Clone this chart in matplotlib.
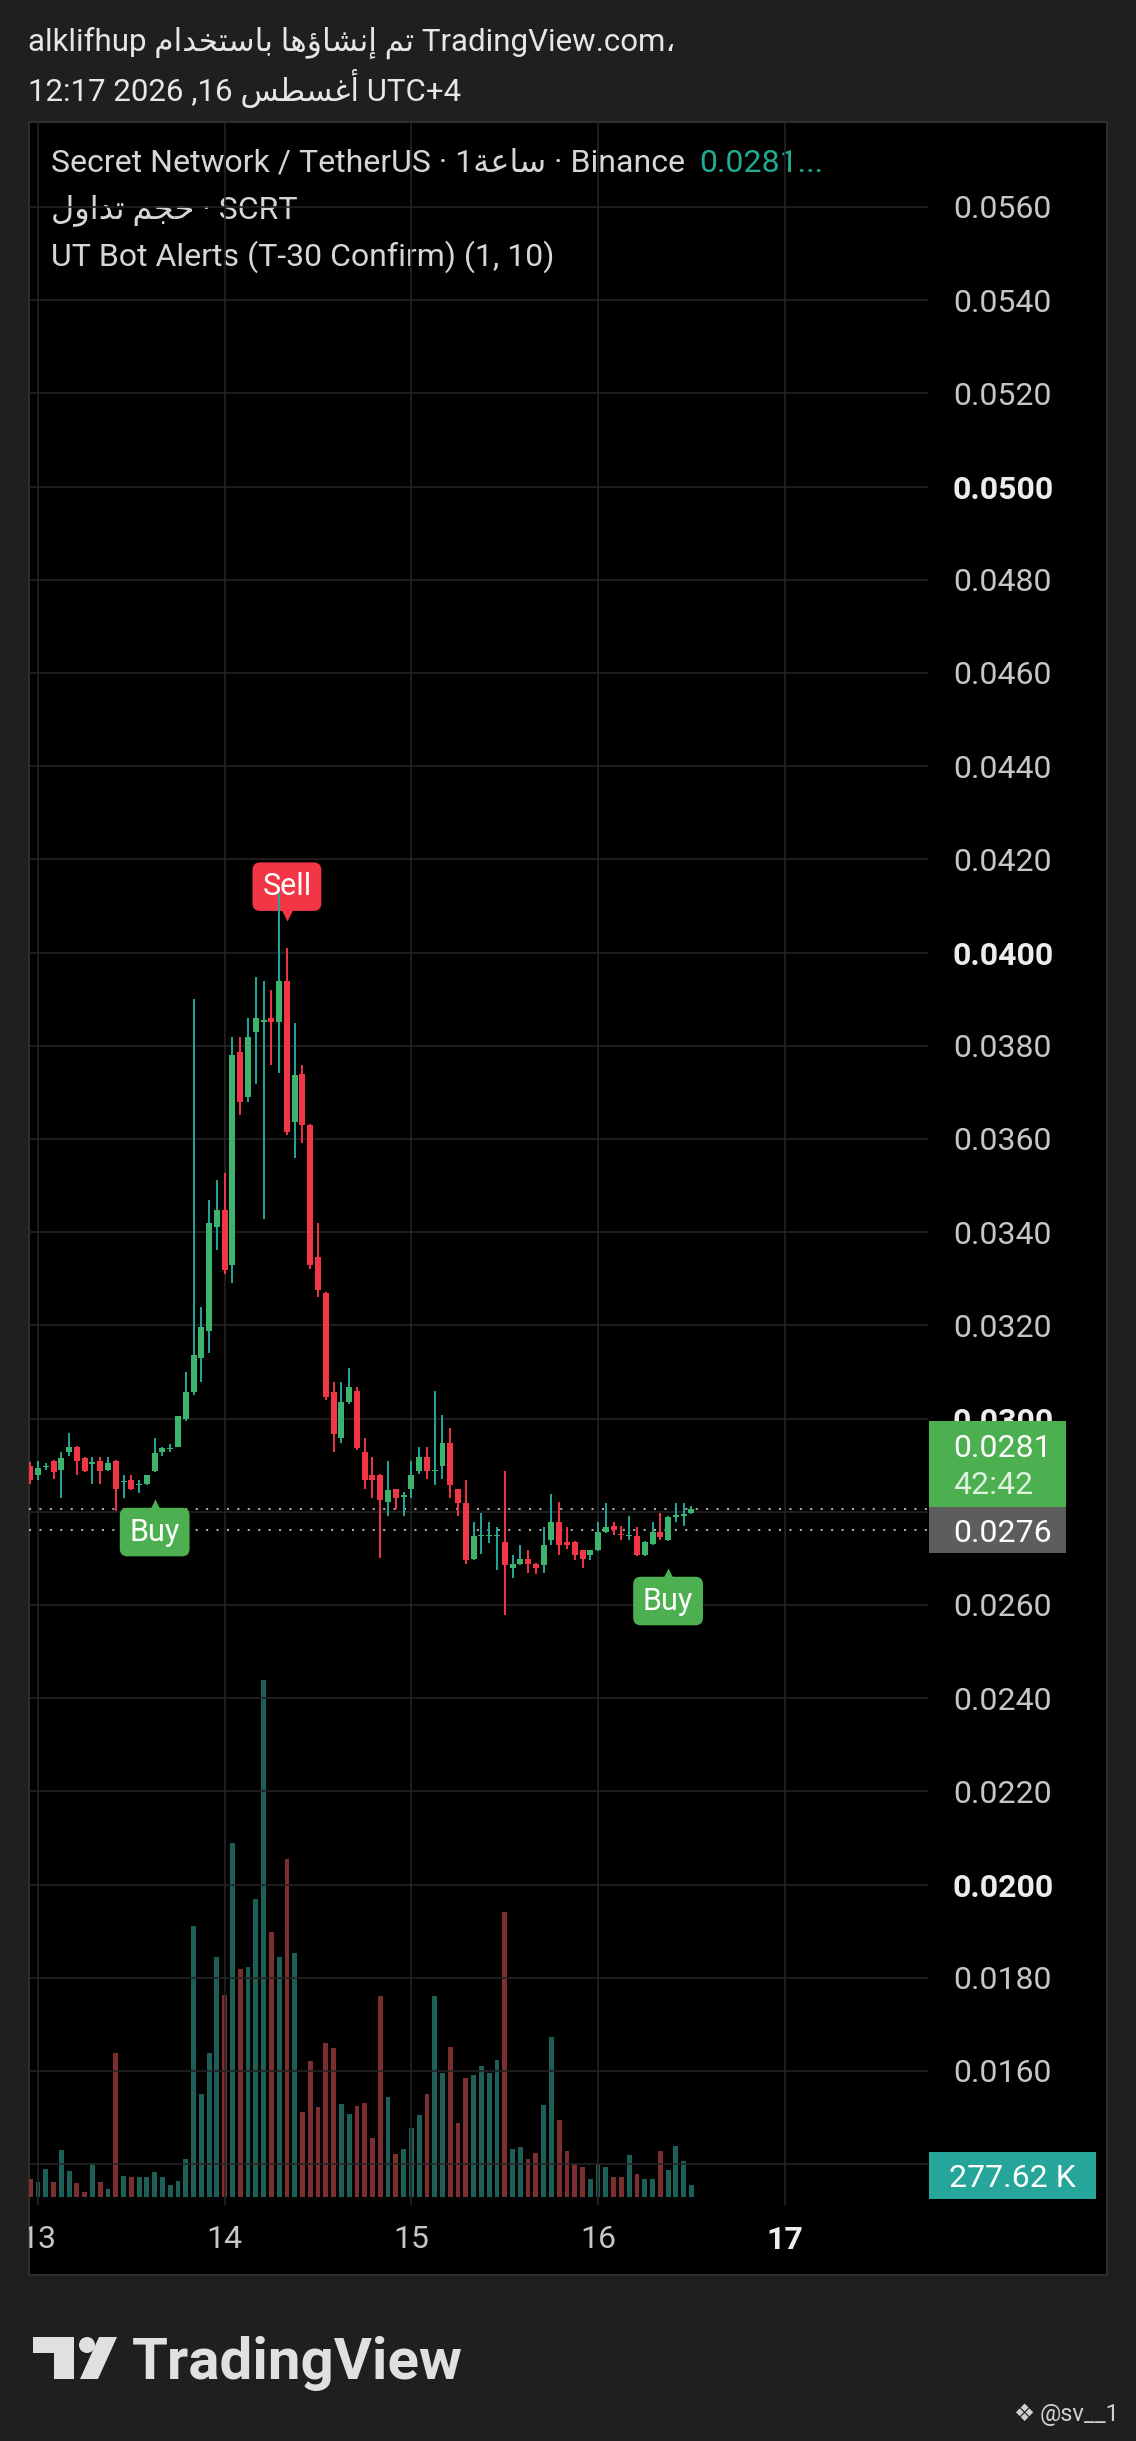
import matplotlib
matplotlib.use('Agg')
import matplotlib.pyplot as plt
from matplotlib import transforms
from matplotlib.patches import Rectangle, Polygon, Circle
import numpy as np

W, H = 1136, 2441

# ---- data (SCRT/USDT, 1h candles) ----
opens = [0.02899, 0.02879, 0.02896, 0.02909, 0.02890, 0.02929, 0.02939, 0.02915, 0.02902, 0.02908,
         0.02890, 0.02909, 0.02863, 0.02868, 0.02857, 0.02859, 0.02888, 0.02929, 0.02935, 0.02940,
         0.02999, 0.03058, 0.03129, 0.03187, 0.03412, 0.03448, 0.03330, 0.03787, 0.03691, 0.03830,
         0.03852, 0.03859, 0.03852, 0.03938, 0.03637, 0.03739, 0.03630, 0.03347, 0.03269, 0.03058,
         0.02958, 0.03036, 0.03060, 0.02929, 0.02879, 0.02879, 0.02822, 0.02848, 0.02832, 0.02848,
         0.02888, 0.02917, 0.02888, 0.02898, 0.02947, 0.02848, 0.02818, 0.02698, 0.02747, 0.02747,
         0.02747, 0.02736, 0.02679, 0.02688, 0.02698, 0.02688, 0.02686, 0.02739, 0.02779, 0.02736,
         0.02736, 0.02717, 0.02707, 0.02717, 0.02757, 0.02769, 0.02752, 0.02747, 0.02748, 0.02707,
         0.02731, 0.02757, 0.02740, 0.02788, 0.02790, 0.02798]
highs = [0.02906, 0.02908, 0.02904, 0.02912, 0.02929, 0.02970, 0.02941, 0.02917, 0.02917, 0.02917,
         0.02917, 0.02911, 0.02879, 0.02879, 0.02868, 0.02880, 0.02958, 0.02940, 0.02946, 0.03006,
         0.03099, 0.03900, 0.03240, 0.03469, 0.03512, 0.03528, 0.03818, 0.03818, 0.03859, 0.03948,
         0.03939, 0.03920, 0.04128, 0.04009, 0.03848, 0.03759, 0.03632, 0.03419, 0.03272, 0.03079,
         0.03079, 0.03108, 0.03067, 0.02958, 0.02918, 0.02881, 0.02910, 0.02850, 0.02842, 0.02908,
         0.02938, 0.02938, 0.03060, 0.03008, 0.02979, 0.02850, 0.02868, 0.02779, 0.02797, 0.02779,
         0.02768, 0.02888, 0.02707, 0.02729, 0.02718, 0.02690, 0.02768, 0.02838, 0.02820, 0.02768,
         0.02738, 0.02719, 0.02718, 0.02779, 0.02818, 0.02779, 0.02770, 0.02790, 0.02768, 0.02738,
         0.02779, 0.02797, 0.02790, 0.02818, 0.02818, 0.02812]
lows = [0.02860, 0.02868, 0.02890, 0.02870, 0.02829, 0.02919, 0.02879, 0.02886, 0.02859, 0.02859,
        0.02888, 0.02801, 0.02829, 0.02846, 0.02840, 0.02857, 0.02886, 0.02920, 0.02929, 0.02938,
        0.02995, 0.03050, 0.03079, 0.03140, 0.03362, 0.03310, 0.03290, 0.03651, 0.03680, 0.03719,
        0.03428, 0.03759, 0.03742, 0.03609, 0.03559, 0.03591, 0.03322, 0.03262, 0.03040, 0.02929,
        0.02947, 0.03031, 0.02933, 0.02848, 0.02829, 0.02700, 0.02791, 0.02807, 0.02791, 0.02829,
        0.02881, 0.02870, 0.02857, 0.02870, 0.02829, 0.02791, 0.02689, 0.02696, 0.02710, 0.02732,
        0.02675, 0.02579, 0.02657, 0.02686, 0.02668, 0.02666, 0.02668, 0.02729, 0.02707, 0.02720,
        0.02696, 0.02679, 0.02696, 0.02715, 0.02755, 0.02750, 0.02740, 0.02740, 0.02705, 0.02705,
        0.02729, 0.02740, 0.02738, 0.02779, 0.02770, 0.02795]
closes = [0.02868, 0.02894, 0.02899, 0.02886, 0.02915, 0.02938, 0.02908, 0.02888, 0.02906, 0.02888,
          0.02904, 0.02848, 0.02866, 0.02848, 0.02860, 0.02878, 0.02927, 0.02936, 0.02937, 0.03006,
          0.03058, 0.03136, 0.03197, 0.03419, 0.03448, 0.03319, 0.03780, 0.03680, 0.03818, 0.03859,
          0.03853, 0.03850, 0.03938, 0.03616, 0.03737, 0.03630, 0.03330, 0.03276, 0.03047, 0.02968,
          0.03036, 0.03067, 0.02936, 0.02868, 0.02868, 0.02825, 0.02847, 0.02829, 0.02836, 0.02879,
          0.02917, 0.02888, 0.02890, 0.02947, 0.02858, 0.02818, 0.02697, 0.02747, 0.02749, 0.02749,
          0.02749, 0.02686, 0.02688, 0.02698, 0.02688, 0.02679, 0.02729, 0.02779, 0.02729, 0.02729,
          0.02707, 0.02698, 0.02717, 0.02757, 0.02767, 0.02760, 0.02750, 0.02750, 0.02707, 0.02736,
          0.02757, 0.02745, 0.02788, 0.02793, 0.02795, 0.02807]
# volume in thousands SCRT
volumes_k = [417, 347, 625, 347, 1076, 590, 312, 122, 781, 330,
             191, 3255, 486, 451, 451, 460, 573, 443, 278, 365,
             868, 6154, 2344, 3255, 5434, 4592, 8029, 5165, 5208, 6762,
             11718, 6015, 5451, 7673, 5538, 1918, 3090, 2040, 3498, 3368,
             2109, 1892, 2066, 2135, 1345, 4566, 2257, 981, 1094, 1554,
             1866, 2326, 4566, 2821, 3394, 1667, 2708, 2778, 2960, 2821,
             3099, 6475, 1085, 1137, 851, 1007, 2092, 3620, 1753, 1042,
             746, 677, 399, 738, 677, 443, 443, 963, 512, 399,
             417, 1033, 608, 1146, 816, 277.62]
first_candle_day = 13 - 1 / 24          # first bar is 12th, 23:00
price_ticks = [0.0140, 0.0160, 0.0180, 0.0200, 0.0220, 0.0240, 0.0260, 0.0280, 0.0300, 0.0320,
               0.0340, 0.0360, 0.0380, 0.0400, 0.0420, 0.0440, 0.0460, 0.0480, 0.0500, 0.0520,
               0.0540, 0.0560]
bold_ticks = ['0.0500', '0.0400', '0.0300', '0.0200']
day_ticks = [13, 14, 15, 16, 17]
sell_idx = [33]
buy_idx = [16, 82]
stop_level = 0.0276
countdown = '42:42'
volume_label = '277.62 K'

# ---- colours ----
BG = '#1f1f1f'
GRID = '#242424'
UP_BODY = '#3db46d'
UP_WICK = '#26a69a'
DOWN = '#f23645'
VOL_UP = '#1d5e57'
VOL_DOWN = '#7b2f2f'
TXT = '#c6c6c6'
FONT = ['Roboto', 'DejaVu Sans']
FS = 23

plt.rcParams['font.family'] = FONT

AR_FORMS = {
    'ا': ('\ufe8d', '\ufe8e', None, None), 'أ': ('\ufe83', '\ufe84', None, None),
    'إ': ('\ufe87', '\ufe88', None, None), 'ؤ': ('\ufe85', '\ufe86', None, None),
    'ب': ('\ufe8f', '\ufe90', '\ufe91', '\ufe92'), 'ة': ('\ufe93', '\ufe94', None, None),
    'ت': ('\ufe95', '\ufe96', '\ufe97', '\ufe98'), 'ج': ('\ufe9d', '\ufe9e', '\ufe9f', '\ufea0'),
    'ح': ('\ufea1', '\ufea2', '\ufea3', '\ufea4'), 'خ': ('\ufea5', '\ufea6', '\ufea7', '\ufea8'),
    'د': ('\ufea9', '\ufeaa', None, None), 'س': ('\ufeb1', '\ufeb2', '\ufeb3', '\ufeb4'),
    'ش': ('\ufeb5', '\ufeb6', '\ufeb7', '\ufeb8'), 'ط': ('\ufec1', '\ufec2', '\ufec3', '\ufec4'),
    'ع': ('\ufec9', '\ufeca', '\ufecb', '\ufecc'), 'غ': ('\ufecd', '\ufece', '\ufecf', '\ufed0'),
    'ل': ('\ufedd', '\ufede', '\ufedf', '\ufee0'), 'م': ('\ufee1', '\ufee2', '\ufee3', '\ufee4'),
    'ن': ('\ufee5', '\ufee6', '\ufee7', '\ufee8'), 'ه': ('\ufee9', '\ufeea', '\ufeeb', '\ufeec'),
    'و': ('\ufeed', '\ufeee', None, None),
}


def shape_ar(text):
    # joins arabic letters and returns them in visual (left to right) order
    out = []
    for k, ch in enumerate(text):
        if ch not in AR_FORMS:
            out.append(ch)
            continue
        iso, fin, ini, med = AR_FORMS[ch]
        prev = text[k - 1] if k > 0 else ''
        nxt = text[k + 1] if k + 1 < len(text) else ''
        join_prev = prev in AR_FORMS and AR_FORMS[prev][2] is not None
        join_next = ini is not None and nxt in AR_FORMS
        if join_prev and join_next:
            out.append(med)
        elif join_prev:
            out.append(fin)
        elif join_next:
            out.append(ini)
        else:
            out.append(iso)
    return ''.join(reversed(out))


def main():
    o = np.array(opens)
    h = np.array(highs)
    lo = np.array(lows)
    c = np.array(closes)
    vol = np.array(volumes_k)
    t = first_candle_day + np.arange(len(o)) / 24
    up = c >= o

    fig = plt.figure(figsize=(W / 100, H / 100), dpi=100, facecolor=BG)

    # decoration layer in pixel coordinates
    deco = fig.add_axes([0, 0, 1, 1], zorder=-1)
    deco.set_xlim(0, W)
    deco.set_ylim(H, 0)
    deco.axis('off')
    deco.add_patch(Rectangle((29, 122), 1078, 2153, fc='black', ec='#2e2e2e', lw=1.5))

    # price / volume panes
    left_px, right_px, top_px, bot_px = 29, 928, 122, 2275
    rect = [left_px / W, 1 - bot_px / H, (right_px - left_px) / W, (bot_px - top_px) / H]
    ax_vol = fig.add_axes(rect)
    ax = fig.add_axes(rect, sharex=ax_vol)
    for a in (ax_vol, ax):
        a.patch.set_alpha(0)
        for s in a.spines.values():
            s.set_visible(False)

    px_per_day = 186.7
    xmin = first_candle_day - 1.2 / px_per_day
    ax.set_xlim(xmin, xmin + (right_px - left_px) / px_per_day)

    px_per_price = 46600.0
    ax.set_ylim(0.056 - (bot_px - 207) / px_per_price, 0.056 + (207 - top_px) / px_per_price)
    kp = 1 / px_per_price

    k_vol = 22.68          # thousand per pixel
    base_px = 2197
    ax_vol.set_ylim(-(bot_px - base_px) * k_vol, (base_px - top_px) * k_vol)
    ax_vol.set_yticks([])
    ax_vol.tick_params(axis='x', length=0, labelbottom=False)

    # grid
    ax.set_yticks(price_ticks)
    ax.set_yticklabels(['' if p < 0.015 else f'{p:.4f}' for p in price_ticks])
    ax.yaxis.tick_right()
    ax.tick_params(axis='y', length=0, pad=18, labelsize=FS, labelcolor=TXT)
    ax.tick_params(axis='x', length=0, labelbottom=False)
    ax.grid(axis='y', color=GRID, lw=1.2)
    for lbl in ax.get_yticklabels():
        if lbl.get_text() in bold_ticks:
            lbl.set_fontweight('bold')
            lbl.set_color('#ececec')
    pane_bottom = 0.056 - (2205 - 207) * kp
    ax.vlines(day_ticks, pane_bottom, ax.get_ylim()[1], color=GRID, lw=1.2, zorder=0.5)

    # day labels on the time axis
    y_days = 0.056 - (2240 - 207) * kp
    for d in day_ticks:
        ax.text(d, y_days, str(d), ha='center', va='center', fontsize=FS,
                color='#ececec' if d == 17 else TXT,
                fontweight='bold' if d == 17 else 'normal', clip_on=True)

    # volume
    ax_vol.bar(t, vol, width=0.62 / 24, color=np.where(up, VOL_UP, VOL_DOWN), zorder=2)

    # candles
    ax.vlines(t, lo, h, colors=np.where(up, UP_WICK, DOWN), lw=1.4, zorder=3)
    body = np.maximum(np.abs(c - o), 2.5e-5)
    ax.bar(t, body, bottom=np.minimum(o, c), width=0.77 / 24,
           color=np.where(up, UP_BODY, DOWN), zorder=4)

    # UT Bot signals
    box = 'round,pad=0.32,rounding_size=0.25'
    for i in sell_idx:
        ax.annotate('Sell', xy=(t[i], h[i]), xytext=(0, 34), textcoords='offset points',
                    ha='center', va='bottom', fontsize=22, color='white', zorder=2,
                    bbox=dict(boxstyle=box, fc=DOWN, ec='none'))
        tr = transforms.offset_copy(ax.transData, fig=fig, x=0, y=33, units='dots')
        ax.plot(t[i], h[i], marker='v', ms=9, color=DOWN, mec='none', transform=tr, zorder=2)
    for i in buy_idx:
        ax.annotate('Buy', xy=(t[i], lo[i]), xytext=(0, -33), textcoords='offset points',
                    ha='center', va='top', fontsize=22, color='white', zorder=2,
                    bbox=dict(boxstyle=box, fc='#4caf50', ec='none'))
        tr = transforms.offset_copy(ax.transData, fig=fig, x=0, y=-33, units='dots')
        ax.plot(t[i], lo[i], marker='^', ms=9, color='#4caf50', mec='none', transform=tr, zorder=2)

    # price lines
    ax.axhline(c[-1], color='#a8a8a8', lw=1.5, ls=(0, (1, 4)), zorder=1)
    ax.axhline(stop_level, color='#a8a8a8', lw=1.5, ls=(0, (1, 4)), zorder=1)

    # price scale labels
    bt = transforms.blended_transform_factory(ax.transAxes, ax.transData)
    span = right_px - left_px
    bx0 = (929 - left_px) / span
    bw = (1066 - 929) / span
    tx = (953 - left_px) / span
    gray_lo = stop_level - 23 * kp
    gray_hi = stop_level + 23 * kp
    ax.add_patch(Rectangle((bx0, gray_lo), bw, gray_hi - gray_lo, transform=bt, fc='#5d5d5d',
                           ec='none', clip_on=False, zorder=10))
    ax.text(tx, stop_level, f'{stop_level:.4f}', transform=bt, ha='left', va='center_baseline',
            fontsize=FS, color='white', clip_on=False, zorder=11)
    ax.add_patch(Rectangle((bx0, gray_hi), bw, 86 * kp, transform=bt, fc='#4caf50',
                           ec='none', clip_on=False, zorder=10))
    ax.text(tx, gray_hi + 62 * kp, f'{c[-1]:.4f}', transform=bt, ha='left', va='center_baseline',
            fontsize=FS, color='white', clip_on=False, zorder=11)
    ax.text(tx, gray_hi + 25 * kp, countdown, transform=bt, ha='left', va='center_baseline',
            fontsize=FS, color='#dff2df', clip_on=False, zorder=11)

    vt = transforms.blended_transform_factory(ax_vol.transAxes, ax_vol.transData)
    ax_vol.add_patch(Rectangle((bx0, -2 * k_vol), (1096 - 929) / span, 47 * k_vol, transform=vt,
                               fc='#26a69a', ec='none', clip_on=False, zorder=10))
    ax_vol.text((1012 - left_px) / span, 21.5 * k_vol, volume_label, transform=vt, ha='center',
                va='center_baseline', fontsize=FS, color='white', clip_on=False, zorder=11)

    # header
    line1 = 'alklifhup ' + shape_ar('تم إنشاؤها باستخدام') + ' TradingView.com\u060c'
    line2 = '12:17 2026 ,16 ' + shape_ar('أغسطس') + ' UTC+4'
    deco.text(28, 43, line1, va='center', fontsize=22.5, color='#e6e6e6')
    deco.text(28, 89, line2, va='center', fontsize=22.5, color='#e6e6e6')

    # legend
    leg1 = deco.text(51, 163, 'Secret Network / TetherUS \u00b7 1' + shape_ar('ساعة') + ' \u00b7 Binance',
                     va='center', fontsize=FS, color='#d6d6d6')
    renderer = fig.canvas.get_renderer()
    bb = leg1.get_window_extent(renderer=renderer)
    deco.text(bb.x1 + 14, 163, f'{c[-1]:.4f}...', va='center', fontsize=FS, color='#22ab94')
    deco.text(51, 210, shape_ar('حجم تداول') + ' \u00b7 SCRT', va='center', fontsize=FS, color='#d6d6d6')
    deco.text(51, 257, 'UT Bot Alerts (T-30 Confirm) (1, 10)', va='center', fontsize=FS, color='#d6d6d6')

    # TradingView logo
    logo = '#e0e0e0'
    deco.add_patch(Polygon([(33, 2337), (74, 2337), (74, 2379), (54, 2379), (54, 2353), (33, 2353)],
                           closed=True, fc=logo, ec='none'))
    deco.add_patch(Circle((87, 2345), 8, fc=logo, ec='none'))
    deco.add_patch(Polygon([(80, 2379), (98, 2379), (117, 2337), (99, 2337)], closed=True,
                           fc=logo, ec='none'))
    deco.text(132, 2379, 'TradingView', va='baseline', ha='left', fontsize=42,
              fontweight='bold', color=logo)

    deco.text(1024, 2414, '\u2756', va='center', ha='center', fontsize=17, color='#d0d0d0',
              family='DejaVu Sans')
    deco.text(1040, 2414, '@sv__1', va='center', ha='left', fontsize=17, color='#d0d0d0')

    fig.savefig('out.png', dpi=100, facecolor=BG)


if __name__ == '__main__':
    main()
